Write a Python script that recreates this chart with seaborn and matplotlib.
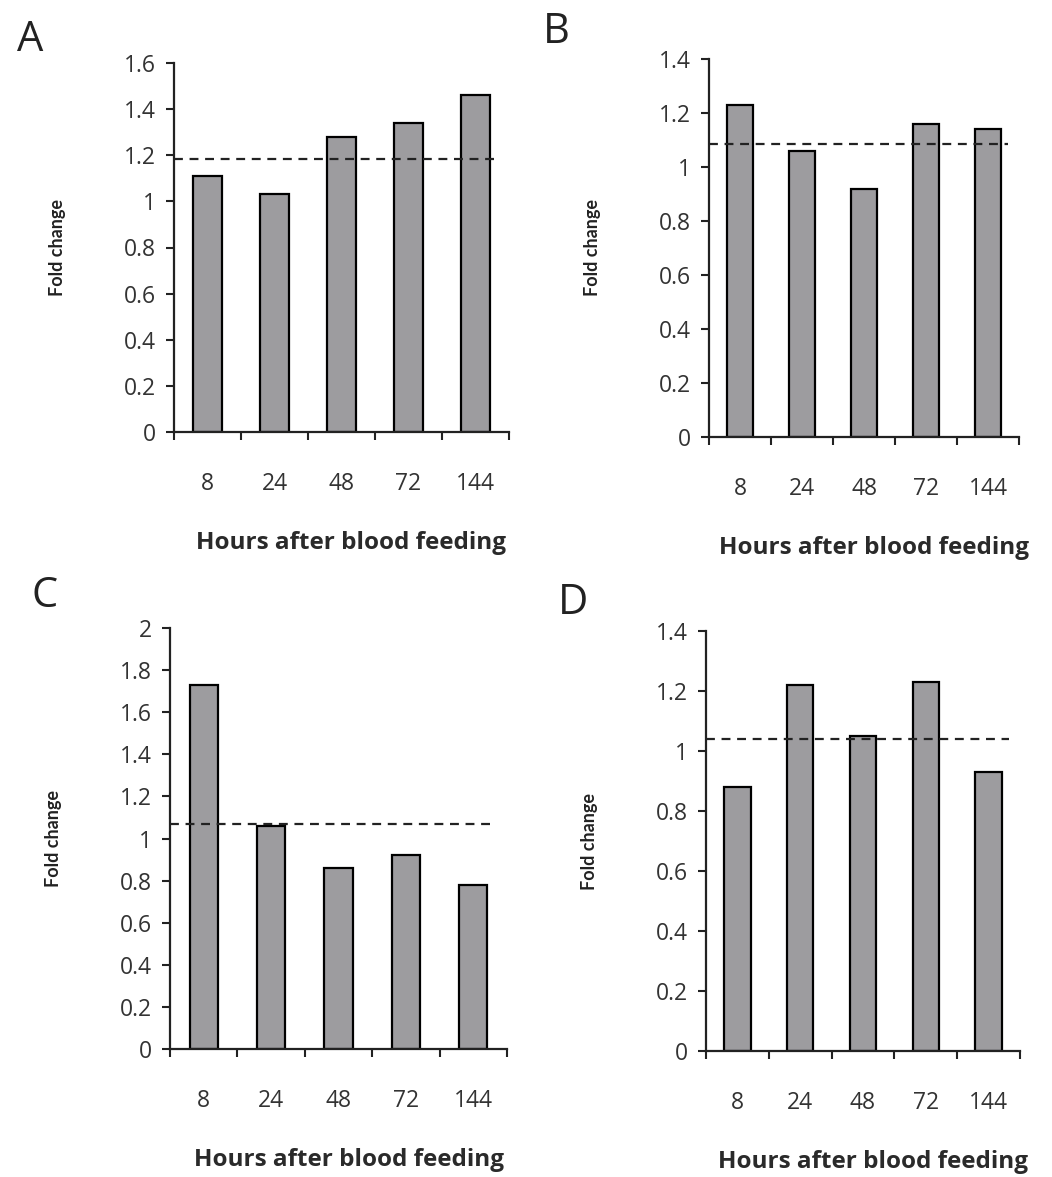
import numpy as np
import pandas as pd
import seaborn as sns
import matplotlib
matplotlib.use('Agg')
from matplotlib import pyplot as plt
from matplotlib.ticker import FixedLocator, FormatStrFormatter

# data
hours = ['8', '24', '48', '72', '144']
fold_a = [1.11, 1.03, 1.28, 1.34, 1.46]
fold_b = [1.23, 1.06, 0.92, 1.16, 1.14]
fold_c = [1.73, 1.06, 0.86, 0.92, 0.78]
fold_d = [0.88, 1.22, 1.05, 1.23, 0.93]
ref_a, ref_b, ref_c, ref_d = 1.185, 1.085, 1.07, 1.04
ymax_a, ymax_b, ymax_c, ymax_d = 1.6, 1.4, 2.0, 1.4

sns.set_style('white')
plt.rcParams['font.family'] = ['Open Sans', 'DejaVu Sans']

W, H = 1052, 1177
fig = plt.figure(figsize=(W / 100, H / 100), dpi=100)


def panel(box, letter, letter_xy, values, ref, ymax):
    '''
    Draw one bar panel. box = (left, right, top, bottom) in pixels.
    '''
    l, r, t, b = box
    ax = fig.add_axes([l / W, 1 - b / H, (r - l) / W, (b - t) / H])
    df = pd.DataFrame({'hours': hours, 'fold': values})
    sns.barplot(data=df, x='hours', y='fold', order=hours, color='#9d9c9f',
                saturation=1, width=0.42, edgecolor='black', linewidth=1.6, ax=ax)
    ax.hlines(ref, -0.5, len(hours) - 0.68, colors='#222222',
              linestyles=(0, (4, 3)), linewidth=1.6, zorder=5)

    ax.set_xlim(-0.5, len(hours) - 0.5)
    ax.set_ylim(0, ymax)
    ax.set_yticks(np.arange(0, ymax + 0.01, 0.2))
    ax.yaxis.set_major_formatter(FormatStrFormatter('%g'))
    ax.xaxis.set_minor_locator(FixedLocator(np.arange(-0.5, len(hours), 1.0)))

    for side in ['top', 'right']:
        ax.spines[side].set_visible(False)
    for side in ['left', 'bottom']:
        ax.spines[side].set_color('#222222')
        ax.spines[side].set_linewidth(1.6)

    ax.tick_params(axis='y', direction='out', length=6, width=1.5, pad=7,
                   labelsize=16.5, colors='#222222', left=True)
    ax.tick_params(axis='y', labelcolor='#333333')
    ax.tick_params(axis='x', which='major', length=0, pad=29, labelsize=16.5,
                   labelcolor='#333333')
    ax.tick_params(axis='x', which='minor', direction='out', length=6, width=1.5,
                   color='#222222', bottom=True)

    ax.set_ylabel('Fold change', fontsize=13, fontweight='bold', color='#222222',
                  family=['Lato', 'DejaVu Sans'])
    ax.yaxis.set_label_coords(-108 / (r - l), 0.5)
    ax.set_xlabel('Hours after blood feeding', fontsize=17.5, fontweight='bold',
                  color='#2a2a2a', va='center')
    ax.xaxis.set_label_coords(0.5 + 10 / (r - l), -111 / (b - t))

    fig.text(letter_xy[0] / W, 1 - letter_xy[1] / H, letter, fontsize=30,
             ha='center', va='center', color='#222222')
    return ax


panel((174, 509, 63, 432), 'A', (30, 40), fold_a, ref_a, ymax_a)
panel((709, 1019, 59, 437), 'B', (556, 32), fold_b, ref_b, ymax_b)
panel((170, 507, 628, 1049), 'C', (45, 596), fold_c, ref_c, ymax_c)
panel((706, 1020, 631, 1051), 'D', (573, 603), fold_d, ref_d, ymax_d)

fig.savefig('out.png', dpi=100)
